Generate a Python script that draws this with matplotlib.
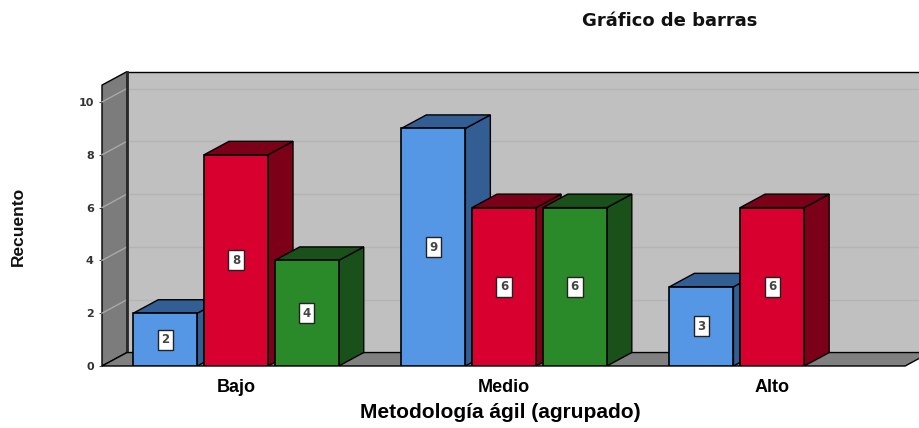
import matplotlib
matplotlib.use("Agg")
import matplotlib.pyplot as plt
from matplotlib.patches import Polygon, Rectangle

# ---------------- Data ----------------
categories = ["Bajo", "Medio", "Alto"]
series_blue = [2, 9, 3]
series_red = [8, 6, 6]
series_green = [4, 6, None]   # no green bar in "Alto"

# ---------------- Style ----------------
FRONT = ["#5597e4", "#d7002f", "#2a8a2a"]
SIDE = ["#335e94", "#7d0019", "#1a501a"]
WALL_BACK = "#c0c0c0"
WALL_LEFT = "#7c7c7c"
FLOOR = "#808080"
GRID = "#b4b4b4"

GROUP_STEP = 3.79     # distance between category centres (in slot units)
BAR_W = 0.905
DX, DY = 0.353, 0.51  # depth offset of the 3D look (x units, value units)
X_LEFT, X_RIGHT = -1.895, 9.67
Y_TOP = 11.59
WALL_TOP = 10.64

fig = plt.figure(figsize=(9.2, 4.28), dpi=100)
ax = fig.add_axes([102 / 920, 62 / 428, 818 / 920, 306 / 428])
ax.set_xlim(X_LEFT, X_RIGHT)
ax.set_ylim(0, Y_TOP)
for s in ax.spines.values():
    s.set_visible(False)

# back wall, left wall and floor
ax.add_patch(Polygon([(X_LEFT + DX, DY), (X_RIGHT + 1, DY), (X_RIGHT + 1, WALL_TOP + DY),
                      (X_LEFT + DX, WALL_TOP + DY)], closed=True, fc=WALL_BACK,
                     ec="black", lw=1.0, zorder=1, clip_on=False))
for v in [2, 4, 6, 8, 10]:
    ax.plot([X_LEFT + DX, X_RIGHT + 1], [v + DY, v + DY], color=GRID, lw=1.0, zorder=1.5,
            clip_on=False)
ax.add_patch(Polygon([(X_LEFT, 0), (X_LEFT + DX, DY), (X_LEFT + DX, WALL_TOP + DY),
                      (X_LEFT, WALL_TOP)], closed=True, fc=WALL_LEFT, ec="black", lw=1.0,
                     zorder=2, clip_on=False))
for v in [2, 4, 6, 8, 10]:
    ax.plot([X_LEFT, X_LEFT + DX], [v, v + DY], color="#a8a8a8", lw=1.0, zorder=2.5,
            clip_on=False)
ax.plot([X_LEFT + DX, X_LEFT + DX], [DY, WALL_TOP + DY], color="#2a2a2a", lw=2.0, zorder=2.6)
floor_right = 9.46
ax.add_patch(Polygon([(X_LEFT, 0), (floor_right, 0), (floor_right + DX, DY), (X_LEFT + DX, DY)],
                     closed=True, fc=FLOOR, ec="black", lw=1.0, zorder=3, clip_on=False))


def bar3d(x0, h, k):
    x1 = x0 + BAR_W
    # right side and top faces
    ax.add_patch(Polygon([(x1, 0), (x1 + DX, DY), (x1 + DX, h + DY), (x1, h)], closed=True,
                         fc=SIDE[k], ec="black", lw=1.0, zorder=4))
    ax.add_patch(Polygon([(x0, h), (x1, h), (x1 + DX, h + DY), (x0 + DX, h + DY)], closed=True,
                         fc=SIDE[k], ec="black", lw=1.0, zorder=4))
    ax.add_patch(Rectangle((x0, 0), BAR_W, h, fc=FRONT[k], ec="black", lw=1.2, zorder=4))
    ax.text(x0 + BAR_W / 2, h / 2, str(h), ha="center", va="center", fontsize=8.5,
            fontweight="bold", color="#444444", family="DejaVu Sans", zorder=5,
            bbox=dict(boxstyle="square,pad=0.3", fc="white", ec="#222222", lw=1.0))


all_series = [series_blue, series_red, series_green]
centers = [i * GROUP_STEP for i in range(len(categories))]
for i, c in enumerate(centers):
    for k, series in enumerate(all_series):
        val = series[i]
        if val is None:
            continue
        bar3d(c + (k - 1) - BAR_W / 2, val, k)

# axes
ax.set_yticks([0, 2, 4, 6, 8, 10])
ax.set_yticklabels(["0", "2", "4", "6", "8", "10"], fontsize=8, fontweight="bold",
                   color="#333333", family="DejaVu Sans")
ax.tick_params(axis="y", length=2, pad=4, color="#555555")
ax.set_xticks(centers)
ax.set_xticklabels(categories, fontsize=13, fontweight="bold", family="Liberation Sans")
ax.tick_params(axis="x", length=0, pad=9)

fig.text(0.012, 1 - 226 / 428, "Recuento", rotation=90, ha="left", va="center", fontsize=12.5,
         fontweight="bold", family="Liberation Sans", color="#111111")
fig.text(500 / 920, 1 - 412 / 428, "Metodología ágil (agrupado)", ha="center", va="center",
         fontsize=15, fontweight="bold", family="Liberation Sans")
fig.text(670 / 920, 1 - 21 / 428, "Gráfico de barras", ha="center", va="center",
         fontsize=13, fontweight="bold", family="DejaVu Sans", color="#111111")

fig.savefig("out.png", dpi=100)
